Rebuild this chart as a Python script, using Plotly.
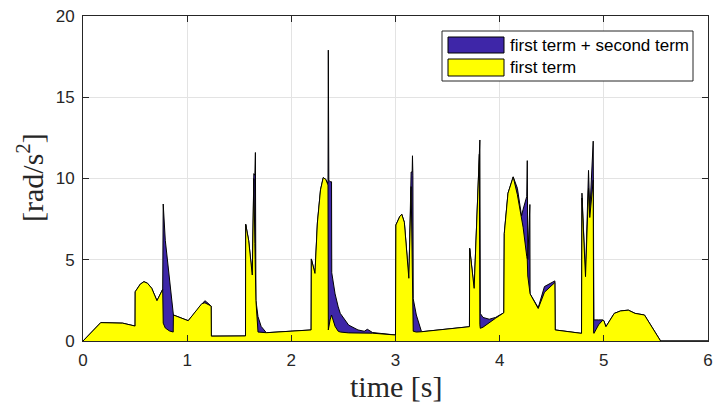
import plotly.graph_objects as go

# time samples [s]
t = [0.000, 0.170, 0.380, 0.500, 0.501, 0.550, 0.585, 0.620, 0.660, 0.710,
     0.765, 0.770, 0.790, 0.830, 0.866, 0.868, 1.010, 1.140, 1.170, 1.190,
     1.230, 1.232, 1.560, 1.562, 1.590, 1.625, 1.640, 1.650, 1.655, 1.660,
     1.680, 1.710, 1.760, 2.190, 2.192, 2.227, 2.250, 2.280, 2.306, 2.330,
     2.345, 2.352, 2.355, 2.360, 2.372, 2.386, 2.388, 2.420, 2.450, 2.470,
     2.550, 2.640, 2.700, 2.730, 2.780, 3.000, 3.004, 3.040, 3.060, 3.085,
     3.128, 3.150, 3.160, 3.163, 3.167, 3.170, 3.200, 3.250, 3.710, 3.712,
     3.755, 3.805, 3.810, 3.814, 3.840, 3.900, 3.960, 4.040, 4.044, 4.080,
     4.130, 4.170, 4.210, 4.225, 4.260, 4.265, 4.270, 4.290, 4.292, 4.370,
     4.430, 4.530, 4.533, 4.786, 4.790, 4.824, 4.853, 4.865, 4.898, 4.902,
     4.905, 4.950, 4.990, 5.000, 5.020, 5.100, 5.160, 5.235, 5.300, 5.390,
     5.545, 6.000]

# first term + second term [rad/s^2]
total = [0.00, 1.13, 1.10, 0.92, 3.03, 3.50, 3.65, 3.55, 3.24, 2.48,
         3.18, 8.43, 6.20, 3.80, 1.60, 1.60, 1.25, 2.30, 2.48, 2.38,
         2.15, 0.30, 0.31, 7.18, 6.20, 4.06, 10.30, 10.20, 11.60, 2.50,
         1.50, 0.90, 0.51, 0.68, 5.05, 4.16, 7.26, 9.30, 10.05, 9.95,
         9.70, 9.70, 17.90, 9.90, 9.80, 9.80, 4.20, 2.90, 2.10, 1.70,
         0.98, 0.68, 0.60, 0.72, 0.52, 0.37, 7.14, 7.65, 7.80, 7.30,
         3.86, 10.40, 10.40, 11.40, 10.20, 2.60, 1.60, 0.57, 0.88, 5.70,
         3.24, 11.50, 12.37, 1.70, 1.45, 1.34, 1.45, 1.74, 6.60, 9.10,
         10.10, 9.40, 7.70, 8.10, 8.90, 11.10, 5.00, 8.40, 2.90, 2.05,
         3.35, 3.70, 0.68, 0.47, 9.10, 3.96, 10.50, 7.90, 12.30, 4.90,
         1.30, 1.30, 1.30, 1.25, 0.88, 1.70, 1.85, 1.90, 1.70, 1.60,
         0.00, 0.00]

# first term [rad/s^2]
first = [0.00, 1.13, 1.10, 0.92, 3.03, 3.50, 3.65, 3.55, 3.24, 2.48,
         3.18, 1.10, 0.80, 0.62, 0.55, 1.60, 1.25, 2.30, 2.35, 2.30,
         2.15, 0.30, 0.31, 7.18, 6.20, 4.06, 10.00, 6.00, 3.50, 2.50,
         0.55, 0.53, 0.51, 0.68, 5.05, 4.16, 7.26, 9.30, 10.05, 9.95,
         9.70, 9.60, 0.68, 0.90, 1.30, 1.60, 1.55, 0.90, 0.60, 0.55,
         0.50, 0.48, 0.48, 0.50, 0.48, 0.37, 7.14, 7.65, 7.80, 7.30,
         3.86, 9.50, 3.50, 2.60, 1.50, 0.60, 0.55, 0.57, 0.88, 5.70,
         3.24, 11.50, 1.00, 0.78, 0.85, 1.10, 1.40, 1.74, 6.60, 9.10,
         10.10, 9.00, 7.60, 7.00, 5.20, 5.00, 4.00, 2.90, 2.90, 2.00,
         3.00, 3.60, 0.68, 0.47, 8.80, 3.96, 9.40, 7.60, 9.90, 0.50,
         0.47, 1.00, 1.28, 1.25, 0.88, 1.70, 1.85, 1.90, 1.70, 1.60,
         0.00, 0.00]

x_ticks = [0, 1, 2, 3, 4, 5, 6]
y_ticks = [0, 5, 10, 15, 20]
series_names = ["first term + second term", "first term"]
series_colors = ["#3E26A8", "#FFFF00"]

W, H = 714, 411
ML, MR, MT, MB = 83, 6, 16, 70
PW, PH = W - ML - MR, H - MT - MB


def px(x):
    return (x - ML) / PW


def py(y):
    return (H - MB - y) / PH


fig = go.Figure()
for vals, name, col in zip([total, first], series_names, series_colors):
    fig.add_trace(go.Scatter(
        x=t, y=vals, mode="lines", fill="tozeroy",
        line=dict(color="black", width=1), fillcolor=col,
        name=name, showlegend=False, hoverinfo="skip"))

axis_common = dict(
    showline=True, linecolor="#262626", linewidth=1, mirror="ticks",
    ticks="inside", ticklen=6, tickcolor="#262626",
    showgrid=True, gridcolor="#e3e3e3", gridwidth=1, zeroline=False,
    automargin=False,
    tickfont=dict(family="Liberation Sans, Arial", size=17, color="#262626"),
)
fig.update_xaxes(range=[0, 6], tickvals=x_ticks, ticklabelstandoff=4, **axis_common)
fig.update_yaxes(range=[0, 20], tickvals=y_ticks, ticklabelstandoff=4, **axis_common)

title_font = dict(family="Liberation Serif, serif", size=30, color="#262626")
annotations = [
    dict(text="time [s]", x=0.5, y=py(386), xref="paper", yref="paper",
         xanchor="center", yanchor="middle", showarrow=False, font=title_font),
    dict(text="[rad/s<sup>2</sup>]", x=px(30), y=py(178), xref="paper", yref="paper",
         xanchor="center", yanchor="middle", textangle=-90, showarrow=False,
         font=title_font),
]

# legend drawn as shapes + text
shapes = [dict(type="rect", xref="paper", yref="paper",
               x0=px(442), x1=px(693), y0=py(81), y1=py(31),
               line=dict(color="#262626", width=1), fillcolor="white", layer="above")]
rows = [(37, 53), (59, 76)]
for (y0, y1), name, col in zip(rows, series_names, series_colors):
    shapes.append(dict(type="rect", xref="paper", yref="paper",
                       x0=px(448), x1=px(504), y0=py(y1), y1=py(y0),
                       line=dict(color="black", width=1), fillcolor=col, layer="above"))
    annotations.append(dict(text=name, x=px(508), y=py((y0 + y1) / 2),
                            xref="paper", yref="paper", xanchor="left", yanchor="middle",
                            showarrow=False,
                            font=dict(family="Liberation Sans, Arial", size=17, color="black")))

fig.update_layout(
    width=W, height=H,
    margin=dict(l=ML, r=MR, t=MT, b=MB, autoexpand=False),
    plot_bgcolor="white", paper_bgcolor="white",
    showlegend=False, hovermode=False,
    shapes=shapes, annotations=annotations,
)

fig.write_html("out.html", config={"displayModeBar": False, "staticPlot": True})

# remove the browser's default page margin so the figure sits at (0, 0)
with open("out.html", "r", encoding="utf-8") as f:
    html = f.read()
html = html.replace("<body>", '<body style="margin:0;padding:0;overflow:hidden">', 1)
with open("out.html", "w", encoding="utf-8") as f:
    f.write(html)
